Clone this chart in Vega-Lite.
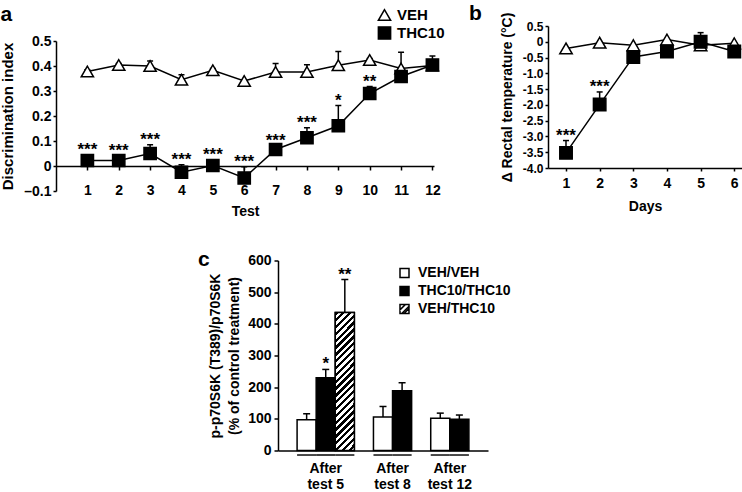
{
  "$schema": "https://vega.github.io/schema/vega-lite/v6.json",
  "background": "white",
  "padding": {"top": 2, "left": 0, "right": 0, "bottom": 0},
  "datasets": {
    "disc": [
      {"test": 1, "group": "VEH", "value": 0.378, "hi": 0.385, "sig": ""},
      {"test": 2, "group": "VEH", "value": 0.404, "hi": 0.41, "sig": ""},
      {"test": 3, "group": "VEH", "value": 0.4, "hi": 0.42, "sig": ""},
      {"test": 4, "group": "VEH", "value": 0.345, "hi": 0.365, "sig": ""},
      {"test": 5, "group": "VEH", "value": 0.383, "hi": 0.39, "sig": ""},
      {"test": 6, "group": "VEH", "value": 0.34, "hi": 0.345, "sig": ""},
      {"test": 7, "group": "VEH", "value": 0.376, "hi": 0.41, "sig": ""},
      {"test": 8, "group": "VEH", "value": 0.376, "hi": 0.405, "sig": ""},
      {"test": 9, "group": "VEH", "value": 0.403, "hi": 0.458, "sig": ""},
      {"test": 10, "group": "VEH", "value": 0.424, "hi": 0.43, "sig": ""},
      {"test": 11, "group": "VEH", "value": 0.39, "hi": 0.455, "sig": ""},
      {"test": 12, "group": "VEH", "value": 0.402, "hi": 0.41, "sig": ""},
      {"test": 1, "group": "THC10", "value": 0.022, "hi": 0.045, "sig": "***"},
      {"test": 2, "group": "THC10", "value": 0.022, "hi": 0.04, "sig": "***"},
      {"test": 3, "group": "THC10", "value": 0.05, "hi": 0.085, "sig": "***"},
      {"test": 4, "group": "THC10", "value": -0.025, "hi": 0.005, "sig": "***"},
      {"test": 5, "group": "THC10", "value": 0.002, "hi": 0.025, "sig": "***"},
      {"test": 6, "group": "THC10", "value": -0.048, "hi": -0.003, "sig": "***"},
      {"test": 7, "group": "THC10", "value": 0.066, "hi": 0.08, "sig": "***"},
      {"test": 8, "group": "THC10", "value": 0.113, "hi": 0.153, "sig": "***"},
      {"test": 9, "group": "THC10", "value": 0.161, "hi": 0.242, "sig": "*"},
      {"test": 10, "group": "THC10", "value": 0.29, "hi": 0.318, "sig": "**"},
      {"test": 11, "group": "THC10", "value": 0.358, "hi": 0.365, "sig": ""},
      {"test": 12, "group": "THC10", "value": 0.404, "hi": 0.44, "sig": ""}
    ],
    "arrowsA": [
      {"test": 0.35}, {"test": 1.4}, {"test": 2.45}, {"test": 3.48}, {"test": 4.52}, {"test": 5.55}
    ],
    "temp": [
      {"day": 1, "group": "VEH", "value": -0.21, "hi": -0.21, "sig": ""},
      {"day": 2, "group": "VEH", "value": -0.03, "hi": -0.03, "sig": ""},
      {"day": 3, "group": "VEH", "value": -0.11, "hi": -0.11, "sig": ""},
      {"day": 4, "group": "VEH", "value": 0.07, "hi": 0.07, "sig": ""},
      {"day": 5, "group": "VEH", "value": -0.11, "hi": -0.11, "sig": ""},
      {"day": 6, "group": "VEH", "value": -0.05, "hi": -0.05, "sig": ""},
      {"day": 1, "group": "THC10", "value": -3.52, "hi": -3.13, "sig": "***"},
      {"day": 2, "group": "THC10", "value": -1.99, "hi": -1.59, "sig": "***"},
      {"day": 3, "group": "THC10", "value": -0.48, "hi": -0.45, "sig": ""},
      {"day": 4, "group": "THC10", "value": -0.31, "hi": -0.26, "sig": ""},
      {"day": 5, "group": "THC10", "value": 0.0, "hi": 0.29, "sig": ""},
      {"day": 6, "group": "THC10", "value": -0.31, "hi": -0.28, "sig": ""}
    ],
    "arrowsB": [
      {"day": 1}, {"day": 2}, {"day": 3}, {"day": 4}, {"day": 5}, {"day": 6}
    ],
    "ps6k": [
      {"test": 5, "after": "After\ntest 5", "treatment": "VEH/VEH", "bar": "5 VEH/VEH", "value": 97, "hi": 116, "sig": ""},
      {"test": 5, "after": "After\ntest 5", "treatment": "THC10/THC10", "bar": "5 THC10/THC10", "value": 230, "hi": 256, "sig": "*"},
      {"test": 5, "after": "After\ntest 5", "treatment": "VEH/THC10", "bar": "5 VEH/THC10", "value": 436, "hi": 540, "sig": "**"},
      {"test": 8, "after": "After\ntest 8", "treatment": "VEH/VEH", "bar": "8 VEH/VEH", "value": 106, "hi": 139, "sig": ""},
      {"test": 8, "after": "After\ntest 8", "treatment": "THC10/THC10", "bar": "8 THC10/THC10", "value": 189, "hi": 214, "sig": ""},
      {"test": 12, "after": "After\ntest 12", "treatment": "VEH/VEH", "bar": "12 VEH/VEH", "value": 102, "hi": 118, "sig": ""},
      {"test": 12, "after": "After\ntest 12", "treatment": "THC10/THC10", "bar": "12 THC10/THC10", "value": 99, "hi": 112, "sig": ""}
    ],
    "breaks": [{"bar": "B1"}, {"bar": "B2"}]
  },
  "columns": 3,
  "bounds": "flush",
  "align": "each",
  "spacing": {"row": 69.5, "column": 60},
  "resolve": {"scale": {"fill": "independent", "shape": "independent"}, "legend": {"fill": "independent", "shape": "independent"}},
  "concat": [
    {
      "width": 161.5, "height": 165,
      "encoding": {
        "x": {"field": "test", "type": "quantitative", "title": "Test",
          "scale": {"domain": [0, 12.05], "range": [0, 378], "nice": false, "zero": false},
          "axis": {"values": [1, 2, 3, 4, 5, 6, 7, 8, 9, 10, 11, 12], "format": "d", "offset": -25, "tickSize": 4, "labelPadding": 13, "titlePadding": 7}},
        "y": {"field": "value", "type": "quantitative", "title": "Discrimination index",
          "scale": {"domain": [-0.1, 0.5], "range": [165, 15], "nice": false, "zero": false},
          "axis": {"values": [-0.1, 0, 0.1, 0.2, 0.3, 0.4, 0.5], "labelExpr": "datum.value === 0 ? '0' : (datum.value < 0 ? '–0.1' : format(datum.value, '.1f'))", "tickSize": 3, "labelPadding": 2, "titlePadding": 8, "titleFontSize": 15}}
      },
      "layer": [
        {
          "data": {"name": "arrowsA"},
          "mark": {"type": "point", "shape": "M-0.25,-1L0.25,-1L0.25,0.1L0.6,0.1L0,1L-0.6,0.1L-0.25,0.1Z", "filled": true, "color": "black", "opacity": 1, "size": 160, "strokeWidth": 0},
          "encoding": {"y": {"datum": 0.473}}
        },
        {
          "data": {"name": "disc"},
          "mark": {"type": "rule", "color": "black", "strokeWidth": 1.5},
          "encoding": {"y2": {"field": "hi"}}
        },
        {
          "data": {"name": "disc"},
          "mark": {"type": "tick", "orient": "horizontal", "color": "black", "size": 6, "thickness": 1.5, "opacity": 1},
          "encoding": {"y": {"field": "hi", "type": "quantitative", "title": "Discrimination index"}}
        },
        {
          "data": {"name": "disc"},
          "mark": {"type": "line", "color": "black", "strokeWidth": 1.5},
          "encoding": {"detail": {"field": "group"}}
        },
        {
          "data": {"name": "disc"},
          "mark": {"type": "point", "filled": true, "stroke": "black", "strokeWidth": 1.5, "size": 150, "opacity": 1},
          "encoding": {
            "shape": {"field": "group", "type": "nominal", "scale": {"domain": ["VEH", "THC10"], "range": ["triangle-up", "square"]},
              "legend": {"orient": "none", "legendX": 321, "legendY": -18.5, "title": null, "symbolSize": 150, "labelFontSize": 15, "labelOffset": 5, "rowPadding": 0,
                "encode": {"symbols": {"update": {
                  "fill": [{"test": "datum.value === 'THC10'", "value": "black"}, {"value": "white"}],
                  "stroke": {"value": "black"}, "strokeWidth": {"value": 1.5}, "opacity": {"value": 1}, "fillOpacity": {"value": 1}, "strokeOpacity": {"value": 1}}}}}},
            "fill": {"field": "group", "type": "nominal", "scale": {"domain": ["VEH", "THC10"], "range": ["white", "black"]}, "legend": null}
          }
        },
        {
          "data": {"name": "disc"},
          "transform": [{"filter": "datum.sig !== ''"}],
          "mark": {"type": "text", "fontSize": 17, "fontWeight": "bold", "baseline": "alphabetic", "color": "black"},
          "encoding": {"y": {"field": "hi", "type": "quantitative", "title": "Discrimination index"}, "text": {"field": "sig"}}
        }
      ]
    },
    {
      "width": 1, "height": 1,
      "data": {"values": []},
      "mark": {"type": "point", "opacity": 0},
      "title": {"text": "a", "dx": -277.5, "offset": 1}
    },
    {
      "width": 194, "height": 142,
      "title": {"text": "b", "dx": -79, "offset": -11.6},
      "encoding": {
        "x": {"field": "day", "type": "quantitative", "title": "Days",
          "scale": {"domain": [0.465, 6.23], "nice": false, "zero": false},
          "axis": {"values": [1, 2, 3, 4, 5, 6], "format": "d", "tickSize": 3, "labelPadding": 5, "titlePadding": 9}},
        "y": {"field": "value", "type": "quantitative", "title": "Δ Rectal temperature (°C)",
          "scale": {"domain": [-4, 0.5], "nice": false, "zero": false},
          "axis": {"values": [-4, -3.5, -3, -2.5, -2, -1.5, -1, -0.5, 0, 0.5], "labelExpr": "datum.value === 0 ? '0' : replace(format(datum.value, '.1f'), '−', '-')", "labelFontSize": 12, "tickSize": 3, "labelPadding": 2, "titlePadding": 8}}
      },
      "layer": [
        {
          "data": {"name": "arrowsB"},
          "mark": {"type": "point", "shape": "M-0.25,-1L0.25,-1L0.25,0.1L0.6,0.1L0,1L-0.6,0.1L-0.25,0.1Z", "filled": true, "color": "black", "opacity": 1, "size": 115, "strokeWidth": 0},
          "encoding": {"y": {"datum": 0.913}}
        },
        {
          "data": {"name": "temp"},
          "mark": {"type": "rule", "color": "black", "strokeWidth": 1.5},
          "encoding": {"y2": {"field": "hi"}}
        },
        {
          "data": {"name": "temp"},
          "mark": {"type": "tick", "orient": "horizontal", "color": "black", "size": 6, "thickness": 1.5, "opacity": 1},
          "encoding": {"y": {"field": "hi", "type": "quantitative", "title": "Δ Rectal temperature (°C)"}}
        },
        {
          "data": {"name": "temp"},
          "mark": {"type": "line", "color": "black", "strokeWidth": 1.5},
          "encoding": {"detail": {"field": "group"}}
        },
        {
          "data": {"name": "temp"},
          "mark": {"type": "point", "filled": true, "stroke": "black", "strokeWidth": 1.5, "size": 155, "opacity": 1},
          "encoding": {
            "shape": {"field": "group", "type": "nominal", "scale": {"domain": ["VEH", "THC10"], "range": ["triangle-up", "square"]}, "legend": null},
            "fill": {"field": "group", "type": "nominal", "scale": {"domain": ["VEH", "THC10"], "range": ["white", "black"]}, "legend": null}
          }
        },
        {
          "data": {"name": "temp"},
          "transform": [{"filter": "datum.sig !== ''"}],
          "mark": {"type": "text", "fontSize": 17, "fontWeight": "bold", "baseline": "alphabetic", "color": "black"},
          "encoding": {"y": {"field": "hi", "type": "quantitative", "title": "Δ Rectal temperature (°C)"}, "text": {"field": "sig"}}
        }
      ]
    },
    {
      "width": 1, "height": 1,
      "data": {"values": []},
      "mark": {"type": "point", "opacity": 0}
    },
    {
      "width": 210, "height": 190,
      "title": {"text": "c", "dx": -80, "offset": -16},
      "encoding": {
        "x": {"field": "bar", "type": "nominal", "title": null,
          "scale": {"domain": ["L", "5 VEH/VEH", "5 THC10/THC10", "5 VEH/THC10", "B1", "8 VEH/VEH", "8 THC10/THC10", "B2", "12 VEH/VEH", "12 THC10/THC10", "R"], "paddingInner": 0, "paddingOuter": 0},
          "axis": {"labels": false, "ticks": false, "title": null}},
        "y": {"field": "value", "type": "quantitative", "title": ["p-p70S6K (T389)/p70S6K", "(% of control treatment)"],
          "scale": {"domain": [0, 600], "nice": false},
          "axis": {"values": [0, 100, 200, 300, 400, 500, 600], "tickSize": 4, "labelPadding": 3, "titlePadding": 6, "titleLineHeight": 19}}
      },
      "layer": [
        {
          "data": {"name": "ps6k"},
          "mark": {"type": "point", "filled": true, "fill": "black", "stroke": "black", "strokeWidth": 1.5, "size": 81, "opacity": 1},
          "encoding": {
            "y": {"datum": 50},
            "shape": {"field": "treatment", "type": "nominal",
              "scale": {"domain": ["VEH/VEH", "THC10/THC10", "VEH/THC10"], "range": ["square", "square", "M-1,-1L1,-1L1,1L-1,1Z M-1,-1L-1,0.2L0.2,-1Z M1,-0.6L-0.6,1L-0.1,1L1,-0.1Z"]},
              "legend": {"orient": "none", "legendX": 119.5, "legendY": 5.5, "title": null, "symbolSize": 81, "labelFontSize": 14, "labelOffset": 6.5, "rowPadding": 2,
                "encode": {"symbols": {"update": {
                  "fill": [{"test": "datum.value === 'VEH/VEH'", "value": "white"}, {"value": "black"}],
                  "stroke": {"value": "black"}, "strokeWidth": {"value": 1.5}, "opacity": {"value": 1}, "fillOpacity": {"value": 1}, "strokeOpacity": {"value": 1}}}}}}
          }
        },
        {
          "data": {"name": "ps6k"},
          "mark": {"type": "bar", "stroke": "black", "strokeWidth": 1.5},
          "encoding": {
            "fill": {"field": "treatment", "type": "nominal",
              "scale": {"domain": ["VEH/VEH", "THC10/THC10", "VEH/THC10"], "range": ["white", "black", "white"]},
              "legend": null}
          }
        },
        {
          "data": {"name": "ps6k"},
          "transform": [{"filter": "datum.treatment === 'VEH/THC10'"}],
          "mark": {"type": "bar", "stroke": "black", "strokeWidth": 1.5,
            "fill": {"gradient": "linear", "x1": 0, "y1": 0, "x2": 0.155, "y2": 1.117, "stops": [
              {"offset": 0, "color": "black"}, {"offset": 0.0217, "color": "black"}, {"offset": 0.0217, "color": "white"}, {"offset": 0.0435, "color": "white"},
              {"offset": 0.0435, "color": "black"}, {"offset": 0.0652, "color": "black"}, {"offset": 0.0652, "color": "white"}, {"offset": 0.087, "color": "white"},
              {"offset": 0.087, "color": "black"}, {"offset": 0.1087, "color": "black"}, {"offset": 0.1087, "color": "white"}, {"offset": 0.1304, "color": "white"},
              {"offset": 0.1304, "color": "black"}, {"offset": 0.1522, "color": "black"}, {"offset": 0.1522, "color": "white"}, {"offset": 0.1739, "color": "white"},
              {"offset": 0.1739, "color": "black"}, {"offset": 0.1957, "color": "black"}, {"offset": 0.1957, "color": "white"}, {"offset": 0.2174, "color": "white"},
              {"offset": 0.2174, "color": "black"}, {"offset": 0.2391, "color": "black"}, {"offset": 0.2391, "color": "white"}, {"offset": 0.2609, "color": "white"},
              {"offset": 0.2609, "color": "black"}, {"offset": 0.2826, "color": "black"}, {"offset": 0.2826, "color": "white"}, {"offset": 0.3043, "color": "white"},
              {"offset": 0.3043, "color": "black"}, {"offset": 0.3261, "color": "black"}, {"offset": 0.3261, "color": "white"}, {"offset": 0.3478, "color": "white"},
              {"offset": 0.3478, "color": "black"}, {"offset": 0.3696, "color": "black"}, {"offset": 0.3696, "color": "white"}, {"offset": 0.3913, "color": "white"},
              {"offset": 0.3913, "color": "black"}, {"offset": 0.413, "color": "black"}, {"offset": 0.413, "color": "white"}, {"offset": 0.4348, "color": "white"},
              {"offset": 0.4348, "color": "black"}, {"offset": 0.4565, "color": "black"}, {"offset": 0.4565, "color": "white"}, {"offset": 0.4783, "color": "white"},
              {"offset": 0.4783, "color": "black"}, {"offset": 0.5, "color": "black"}, {"offset": 0.5, "color": "white"}, {"offset": 0.5217, "color": "white"},
              {"offset": 0.5217, "color": "black"}, {"offset": 0.5435, "color": "black"}, {"offset": 0.5435, "color": "white"}, {"offset": 0.5652, "color": "white"},
              {"offset": 0.5652, "color": "black"}, {"offset": 0.587, "color": "black"}, {"offset": 0.587, "color": "white"}, {"offset": 0.6087, "color": "white"},
              {"offset": 0.6087, "color": "black"}, {"offset": 0.6304, "color": "black"}, {"offset": 0.6304, "color": "white"}, {"offset": 0.6522, "color": "white"},
              {"offset": 0.6522, "color": "black"}, {"offset": 0.6739, "color": "black"}, {"offset": 0.6739, "color": "white"}, {"offset": 0.6957, "color": "white"},
              {"offset": 0.6957, "color": "black"}, {"offset": 0.7174, "color": "black"}, {"offset": 0.7174, "color": "white"}, {"offset": 0.7391, "color": "white"},
              {"offset": 0.7391, "color": "black"}, {"offset": 0.7609, "color": "black"}, {"offset": 0.7609, "color": "white"}, {"offset": 0.7826, "color": "white"},
              {"offset": 0.7826, "color": "black"}, {"offset": 0.8043, "color": "black"}, {"offset": 0.8043, "color": "white"}, {"offset": 0.8261, "color": "white"},
              {"offset": 0.8261, "color": "black"}, {"offset": 0.8478, "color": "black"}, {"offset": 0.8478, "color": "white"}, {"offset": 0.8696, "color": "white"},
              {"offset": 0.8696, "color": "black"}, {"offset": 0.8913, "color": "black"}, {"offset": 0.8913, "color": "white"}, {"offset": 0.913, "color": "white"},
              {"offset": 0.913, "color": "black"}, {"offset": 0.9348, "color": "black"}, {"offset": 0.9348, "color": "white"}, {"offset": 0.9565, "color": "white"},
              {"offset": 0.9565, "color": "black"}, {"offset": 0.9783, "color": "black"}, {"offset": 0.9783, "color": "white"}, {"offset": 1, "color": "white"}
            ]}}
        },
        {
          "data": {"name": "ps6k"},
          "mark": {"type": "rule", "color": "black", "strokeWidth": 1.5},
          "encoding": {"y2": {"field": "hi"}}
        },
        {
          "data": {"name": "ps6k"},
          "mark": {"type": "tick", "orient": "horizontal", "color": "black", "size": 7, "thickness": 1.5, "opacity": 1},
          "encoding": {"y": {"field": "hi", "type": "quantitative", "title": ["p-p70S6K (T389)/p70S6K", "(% of control treatment)"]}}
        },
        {
          "data": {"name": "ps6k"},
          "transform": [{"filter": "datum.sig !== ''"}],
          "mark": {"type": "text", "fontSize": 17, "fontWeight": "bold", "baseline": "alphabetic", "color": "black"},
          "encoding": {"y": {"field": "hi", "type": "quantitative", "title": ["p-p70S6K (T389)/p70S6K", "(% of control treatment)"]}, "text": {"field": "sig"}}
        },
        {
          "data": {"name": "ps6k"},
          "mark": {"type": "rect", "color": "black"},
          "encoding": {"y": {"datum": -12}, "y2": {"datum": -16.5}}
        },
        {
          "data": {"name": "ps6k"},
          "transform": [{"filter": "datum.bar === '5 THC10/THC10'"}],
          "mark": {"type": "text", "lineBreak": "\n", "lineHeight": 16, "baseline": "top", "dy": 11, "fontSize": 14, "fontWeight": "bold", "color": "black"},
          "encoding": {"y": {"datum": 0}, "text": {"field": "after"}}
        },
        {
          "data": {"name": "ps6k"},
          "transform": [{"filter": "datum.treatment === 'VEH/VEH' && datum.test > 5"}],
          "mark": {"type": "text", "lineBreak": "\n", "lineHeight": 16, "baseline": "top", "dy": 11, "fontSize": 14, "fontWeight": "bold", "color": "black"},
          "encoding": {"x": {"field": "bar", "type": "nominal", "bandPosition": 1, "title": null}, "y": {"datum": 0}, "text": {"field": "after"}}
        },
        {
          "data": {"name": "breaks"},
          "mark": {"type": "text", "text": "//", "baseline": "middle", "fontSize": 15, "fontWeight": "bold", "color": "black"},
          "encoding": {"y": {"datum": 0}}
        }
      ]
    }
  ],
  "config": {
    "font": "Liberation Sans",
    "view": {"stroke": null},
    "axis": {"grid": false, "domainColor": "black", "domainWidth": 1.5, "tickColor": "black", "tickWidth": 1.5, "labelColor": "black", "labelFont": "Liberation Sans", "labelFontSize": 14, "labelFontWeight": "bold", "titleColor": "black", "titleFont": "Liberation Sans", "titleFontSize": 14, "titleFontWeight": "bold", "labelFlush": false, "labelOverlap": false},
    "legend": {"labelFont": "Liberation Sans", "labelFontSize": 14, "labelFontWeight": "bold", "labelColor": "black", "padding": 0},
    "title": {"font": "Liberation Sans", "fontSize": 21, "fontWeight": "bold", "color": "black", "anchor": "start", "frame": "group", "baseline": "alphabetic"},
    "text": {"font": "Liberation Sans", "color": "black"}
  }
}
